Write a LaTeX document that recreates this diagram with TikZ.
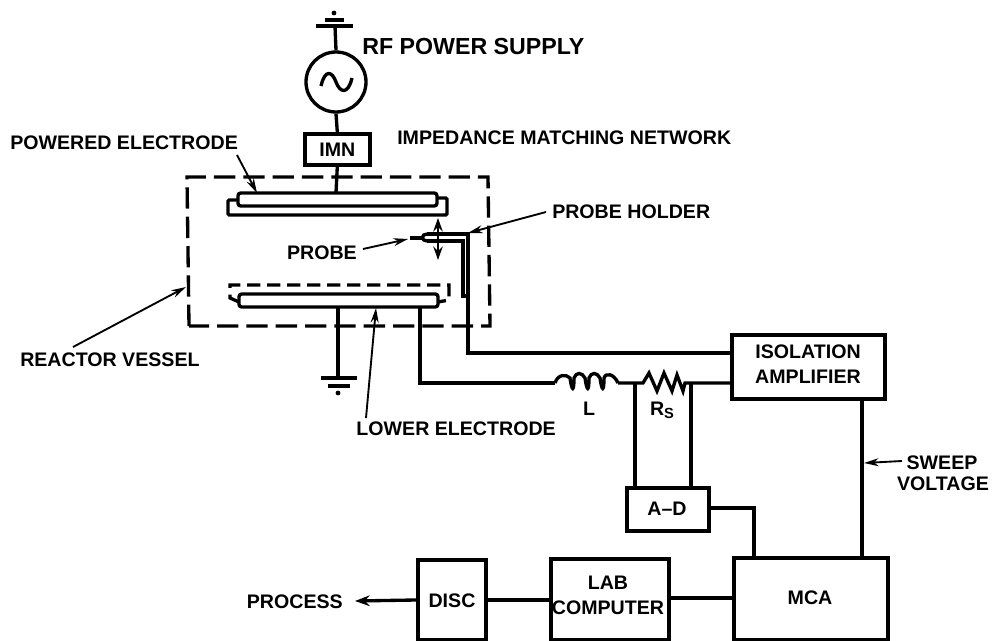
\documentclass[tikz,border=0pt]{standalone}
\usepackage{fontspec}
\setmainfont{Liberation Sans}
\usetikzlibrary{arrows.meta,calc}
\tikzset{
 x=0.75pt,y=-0.75pt,
 wire/.style={line width=2.5pt,black,line join=miter},
 boxn/.style={draw=black,line width=2.7pt,inner sep=0pt,anchor=north west,align=center},
 lbl/.style={inner sep=0pt,font=\fontsize{14.7}{20}\selectfont\bfseries,align=center},
 ptr/.style={line width=1.4pt,-{Stealth[length=11pt,width=6pt]}},
 dash vessel/.style={line width=2.5pt,dash pattern=on 16pt off 6pt},
}
\newcommand{\pxbox}[5]{\node[boxn,minimum width=#4*0.75pt,minimum height=#5*0.75pt] (#1) at (#2,#3) {};}
\begin{document}
\begin{tikzpicture}
\useasboundingbox (0,0) rectangle (992,641);
\coordinate (gt) at (335,26);
\draw[wire] (316,26) -- (353,26);
\draw[wire] (325,20) -- (344,20);
\fill (334,13) circle[radius=2.4];
\node[draw=black,line width=2.5pt,circle,minimum size=60*0.75pt,inner sep=0pt] (src) at (336,82) {};
\draw[wire] (gt) -- (src.north);
\draw[wire] (321,86) .. controls (325,69) and (332,71) .. (336,82) .. controls (340,93) and (348,95) .. (352,78);
\pxbox{imn}{303}{132}{65}{31}
\node[lbl] (imnt) at (imn.center) {IMN};
\draw[wire] (src.south) -- (imn.north);
\coordinate (v1) at (187,177); \coordinate (v2) at (488,177); \coordinate (v3) at (490,326); \coordinate (v4) at (189,326);
\draw[dash vessel] (v4) -- (v1) -- (v2) -- (v3) -- (v4);
\draw[wire,rounded corners=2pt] (238,193) rectangle (437,206);
\draw[wire,rounded corners=1pt] (238,200) -- (228,200) -- (228,215) -- (447,215) -- (447,198) -- (437,198);
\coordinate (pe) at (336,193);
\draw[wire] (imn.south) -- (pe);
\draw[wire,rounded corners=2pt] (239,294) rectangle (438,307);
\draw[line width=2.5pt,dash pattern=on 10pt off 5pt] (239,302) -- (230,298) -- (230,285) -- (449,285) -- (449,300) -- (438,302);
\coordinate (lg) at (338,307);
\coordinate (lgb) at (338,378);
\draw[wire] (lg) -- (lgb);
\draw[wire] (321,378) -- (357,378);
\draw[wire] (328,386) -- (350,386);
\fill (338,393) circle[radius=2.4];
\draw[wire] (427,234) -- (468,234) -- (468,353) -- (730,353);
\draw[wire] (427,241) -- (463,241) -- (463,296) -- (468,296);
\draw[wire] (427,234) .. controls (421,234) and (421,241) .. (427,241);
\draw[wire] (410,238) -- (423,238);
\draw[line width=1.8pt,{Stealth[length=10pt,width=7pt]}-{Stealth[length=10pt,width=7pt]}] (438,218) -- (438,260);
\pxbox{iso}{730}{333}{153}{64}
\pxbox{ad}{625}{486}{82}{43}
\pxbox{mca}{732}{556}{154}{82}
\pxbox{lab}{549}{557}{118}{81}
\pxbox{disc}{416}{558}{68}{80}
\node[lbl] (isot) at (808,352) {ISOLATION};
\node[lbl] (ampt) at (808,377) {AMPLIFIER};
\node[lbl] (adt) at (667,509) {A--D};
\node[lbl] (mcat) at (810,598) {MCA};
\node[lbl] (labt) at (608,583) {LAB};
\node[lbl] (compt) at (608,608) {COMPUTER};
\node[lbl] (disct) at (452,601) {DISC};
\coordinate (ls) at (420,307);
\coordinate (ind1) at (555,383);
\coordinate (ind2) at (618,383);
\coordinate (rj1) at (635,383);
\coordinate (res1) at (643,383);
\coordinate (res2) at (685,383);
\coordinate (rj2) at (691,383);
\draw[wire] (ls) -- (420,383) -- (ind1);
\draw[wire] (ind1) .. controls (558,374) and (566,374) .. (570,378)
 .. controls (572,392) and (574,392) .. (574,378)
 .. controls (576,372) and (582,372) .. (585,378)
 .. controls (587,392) and (589,392) .. (589,378)
 .. controls (591,372) and (597,372) .. (600,378)
 .. controls (602,392) and (604,392) .. (604,378)
 .. controls (606,372) and (614,374) .. (ind2);
\draw[wire] (ind2) -- (res1) -- (649,373) -- (657,391) -- (664,373) -- (672,391) -- (677,375) -- (683,391) -- (res2) -- (iso.west |- res2);
\draw[wire] (rj1) -- (rj1 |- ad.north);
\draw[wire] (rj2) -- (rj2 |- ad.north);
\coordinate (adx) at (754,508);
\coordinate (ady) at (ad.east |- adx);
\draw[wire] (ady) -- (adx) -- (adx |- mca.north);
\coordinate (swt) at (862,397);
\draw[wire] (swt) -- (swt |- mca.north);
\coordinate (lm) at (667,598);
\draw[wire] (lm) -- (lm -| mca.west);
\coordinate (dl) at (484,600);
\draw[wire] (dl) -- (dl -| lab.west);
\node[lbl,font=\fontsize{17.4}{20}\selectfont\bfseries,anchor=west] (t1) at (362,47) {RF POWER SUPPLY};
\node[lbl,anchor=west] (t2) at (397,138) {IMPEDANCE MATCHING NETWORK};
\node[lbl,anchor=west] (t3) at (10,143) {POWERED ELECTRODE};
\node[lbl,anchor=west] (t4) at (552,212) {PROBE HOLDER};
\node[lbl,anchor=east] (t5) at (357,253) {PROBE};
\node[lbl,anchor=west] (t6) at (20,360) {REACTOR VESSEL};
\node[lbl,anchor=east] (t7) at (556,429) {LOWER ELECTRODE};
\node[lbl] (t8) at (589,409) {L};
\node[lbl] (t9) at (662,410) {R\raisebox{-2pt}{\fontsize{11}{12}\selectfont S}};
\node[lbl,anchor=east] (t10) at (343,602) {PROCESS};
\node[lbl] (t11) at (942,463) {SWEEP};
\node[lbl] (t12) at (943,484) {VOLTAGE};
\coordinate (a1) at (237,155); \coordinate (a2) at (257,193);
\draw[ptr] (a1) -- (a2);
\draw[ptr] (546,212) -- (468,233);
\draw[ptr] (363,249) -- (408,239);
\draw[ptr] (73,347) -- (186,287);
\draw[ptr] (366,418) -- (376,308);
\draw[ptr] (902,461) -- (864,463);
\coordinate (dw) at (416,600);
\draw[wire,-{Stealth[length=11pt,width=8pt]}] (dw) -- (355,601);
\end{tikzpicture}
\end{document}
